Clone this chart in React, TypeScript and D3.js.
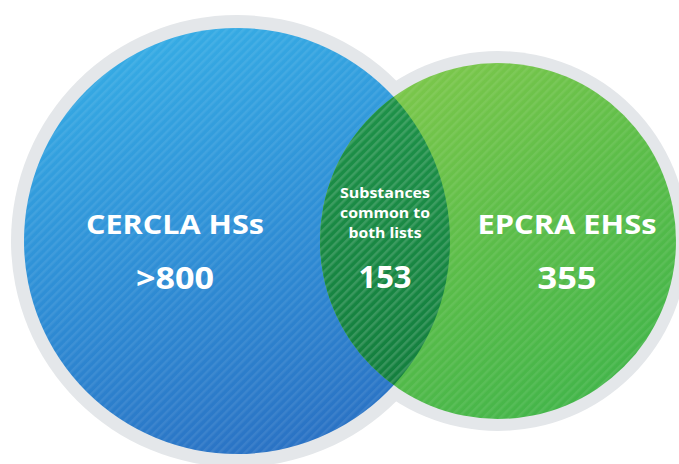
import { useMemo } from "react";
import * as d3 from "d3";

const WIDTH = 679;
const HEIGHT = 464;

// set names, counts and the shared count
const setNames = ["CERCLA HSs", "EPCRA EHSs"];
const setCounts = [">800", "355"];
const overlapLines = ["Substances", "common to", "both lists"];
const overlapCount = "153";

// layout of the two discs (not proportional in the original graphic)
const DISCS = [
  { cx: 237, cy: 241, r: 213, ring: 13, labelX: 175 },
  { cx: 498, cy: 241, r: 178, ring: 12, labelX: 567 },
];
const LENS_X = 385;

const NAME_WIDTHS = [178, 179];
const COUNT_WIDTHS = [78, 59];
const LENS_WIDTHS = [90, 90, 73];

const FONT = "'Open Sans', 'DejaVu Sans', sans-serif";

export default function App() {
  const bluePath = useMemo(() => {
    const p = d3.path();
    const [a] = DISCS;
    p.arc(a.cx, a.cy, a.r, 0, Math.PI * 2);
    return p.toString();
  }, []);

  const lineY = d3.scaleLinear().domain([0, 1]).range([197.5, 217.5]);

  return (
    <svg
      width={WIDTH}
      height={HEIGHT}
      style={{ position: "absolute", left: 0, top: 0, display: "block" }}
    >
      <defs>
        <linearGradient id="blueGrad" x1="0.3" y1="0" x2="0.6" y2="1">
          <stop offset="0" stopColor="#36ade5" />
          <stop offset="0.5" stopColor="#2f8fd6" />
          <stop offset="1" stopColor="#2a72c4" />
        </linearGradient>
        <linearGradient id="greenGrad" x1="0.2" y1="0" x2="0.8" y2="1">
          <stop offset="0" stopColor="#7fc84b" />
          <stop offset="0.5" stopColor="#5bbd49" />
          <stop offset="1" stopColor="#40b44a" />
        </linearGradient>
        <linearGradient id="lensGrad" x1="0" y1="0" x2="0" y2="1">
          <stop offset="0" stopColor="#1f944a" />
          <stop offset="1" stopColor="#127d3d" />
        </linearGradient>
        <pattern
          id="stripes"
          width={6}
          height={6}
          patternUnits="userSpaceOnUse"
          patternTransform="rotate(45)"
        >
          <rect x={0} y={0} width={2.5} height={6} fill="#ffffff" fillOpacity={0.08} />
        </pattern>
        <clipPath id="blueClip">
          <path d={bluePath} />
        </clipPath>
      </defs>

      {/* grey rings */}
      {DISCS.map((d, i) => (
        <circle key={"ring" + i} cx={d.cx} cy={d.cy} r={d.r + d.ring} fill="#e4e7ea" />
      ))}

      {/* fills */}
      <circle cx={DISCS[0].cx} cy={DISCS[0].cy} r={DISCS[0].r} fill="url(#blueGrad)" />
      <circle cx={DISCS[1].cx} cy={DISCS[1].cy} r={DISCS[1].r} fill="url(#greenGrad)" />
      <circle
        cx={DISCS[1].cx}
        cy={DISCS[1].cy}
        r={DISCS[1].r}
        fill="url(#lensGrad)"
        clipPath="url(#blueClip)"
      />

      {/* stripe texture */}
      {DISCS.map((d, i) => (
        <circle key={"st" + i} cx={d.cx} cy={d.cy} r={d.r} fill="url(#stripes)" />
      ))}

      {/* labels */}
      <g fill="#ffffff" fontFamily={FONT} fontWeight={700} textAnchor="middle">
        {setNames.map((name, i) => (
          <text
            key={name}
            x={DISCS[i].labelX}
            y={234}
            fontSize={27}
            textLength={NAME_WIDTHS[i]}
            lengthAdjust="spacingAndGlyphs"
          >
            {name}
          </text>
        ))}
        {setCounts.map((c, i) => (
          <text
            key={c}
            x={DISCS[i].labelX}
            y={289}
            fontSize={30}
            textLength={COUNT_WIDTHS[i]}
            lengthAdjust="spacingAndGlyphs"
          >
            {c}
          </text>
        ))}
        {overlapLines.map((line, i) => (
          <text
            key={line}
            x={LENS_X}
            y={lineY(i)}
            fontSize={14.5}
            textLength={LENS_WIDTHS[i]}
            lengthAdjust="spacingAndGlyphs"
          >
            {line}
          </text>
        ))}
        <text
          x={LENS_X}
          y={288}
          fontSize={30}
          textLength={53}
          lengthAdjust="spacingAndGlyphs"
        >
          {overlapCount}
        </text>
      </g>
    </svg>
  );
}
